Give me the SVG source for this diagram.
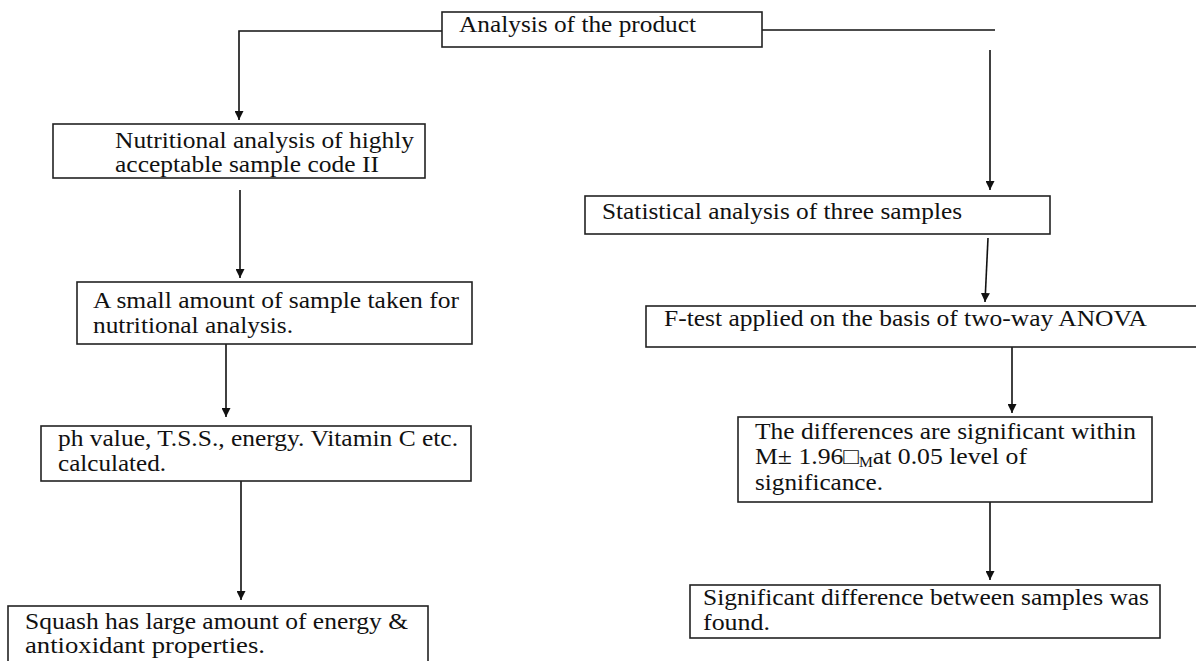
<svg xmlns="http://www.w3.org/2000/svg" width="1196" height="661" viewBox="0 0 1196 661">
<style>
.box{fill:#fff;stroke:#222;stroke-width:1.6}
.t{font-family:"Liberation Serif","Times New Roman",serif;font-size:23px;fill:#111}
.c{fill:none;stroke:#111;stroke-width:1.6}
</style>
<defs>
<marker id="ah" viewBox="0 0 10 10" refX="10" refY="5" markerWidth="9" markerHeight="9" markerUnits="userSpaceOnUse" orient="auto">
<path d="M0,0 L10,5 L0,10 z" fill="#111"/>
</marker>
</defs>
<rect width="1196" height="661" fill="#fff"/>
<g id="connectors">
<polyline class="c" points="443,31 239,31 239,120" marker-end="url(#ah)"/>
<line class="c" x1="762" y1="30" x2="995" y2="30"/>
<line class="c" x1="990" y1="50" x2="990" y2="190" marker-end="url(#ah)"/>
<line class="c" x1="240" y1="190" x2="240" y2="278" marker-end="url(#ah)"/>
<line class="c" x1="226" y1="344" x2="226" y2="417" marker-end="url(#ah)"/>
<line class="c" x1="241" y1="472" x2="241" y2="600" marker-end="url(#ah)"/>
<line class="c" x1="988" y1="238" x2="985" y2="302" marker-end="url(#ah)"/>
<line class="c" x1="1012" y1="340" x2="1012" y2="413" marker-end="url(#ah)"/>
<line class="c" x1="990" y1="492" x2="990" y2="580" marker-end="url(#ah)"/>
</g>
<g id="n-top"><rect class="box" x="442" y="12" width="320" height="35"/><text class="t" x="459" y="32" textLength="237" lengthAdjust="spacingAndGlyphs">Analysis of the product</text></g>
<g id="n-nutri"><rect class="box" x="53" y="124" width="372" height="54"/><text class="t" x="115" y="148" textLength="299" lengthAdjust="spacingAndGlyphs">Nutritional analysis of highly</text><text class="t" x="115" y="172" textLength="264" lengthAdjust="spacingAndGlyphs">acceptable sample code II</text></g>
<g id="n-small"><rect class="box" x="77" y="282" width="395" height="62"/><text class="t" x="93" y="308" textLength="366" lengthAdjust="spacingAndGlyphs">A small amount of sample taken for</text><text class="t" x="93" y="333" textLength="200" lengthAdjust="spacingAndGlyphs">nutritional analysis.</text></g>
<g id="n-ph"><rect class="box" x="41" y="426" width="430" height="55"/><text class="t" x="58" y="446" textLength="400" lengthAdjust="spacingAndGlyphs">ph value, T.S.S., energy. Vitamin C etc.</text><text class="t" x="58" y="471" textLength="108" lengthAdjust="spacingAndGlyphs">calculated.</text></g>
<g id="n-squash"><rect class="box" x="8" y="606" width="420" height="60"/><text class="t" x="25" y="629" textLength="383" lengthAdjust="spacingAndGlyphs">Squash has large amount of energy &amp;</text><text class="t" x="25" y="653" textLength="240" lengthAdjust="spacingAndGlyphs">antioxidant properties.</text></g>
<g id="n-stat"><rect class="box" x="585" y="196" width="465" height="38"/><text class="t" x="602" y="219" textLength="360" lengthAdjust="spacingAndGlyphs">Statistical analysis of three samples</text></g>
<g id="n-ftest"><rect class="box" x="646" y="306" width="560" height="41"/><text class="t" x="664" y="326" textLength="483" lengthAdjust="spacingAndGlyphs">F-test applied on the basis of two-way ANOVA</text></g>
<g id="n-diff"><rect class="box" x="738" y="417" width="414" height="85"/><text class="t" x="755" y="439" textLength="381" lengthAdjust="spacingAndGlyphs">The differences are significant within</text><text class="t" x="755" y="464" textLength="272" lengthAdjust="spacingAndGlyphs">M± 1.96□<tspan font-size="14" dy="3">M</tspan><tspan dy="-3">at 0.05 level of</tspan></text><text class="t" x="755" y="490" textLength="128" lengthAdjust="spacingAndGlyphs">significance.</text></g>
<g id="n-sig"><rect class="box" x="690" y="585" width="470" height="53"/><text class="t" x="703" y="605" textLength="446" lengthAdjust="spacingAndGlyphs">Significant difference between samples was</text><text class="t" x="703" y="630" textLength="67" lengthAdjust="spacingAndGlyphs">found.</text></g>
</svg>
